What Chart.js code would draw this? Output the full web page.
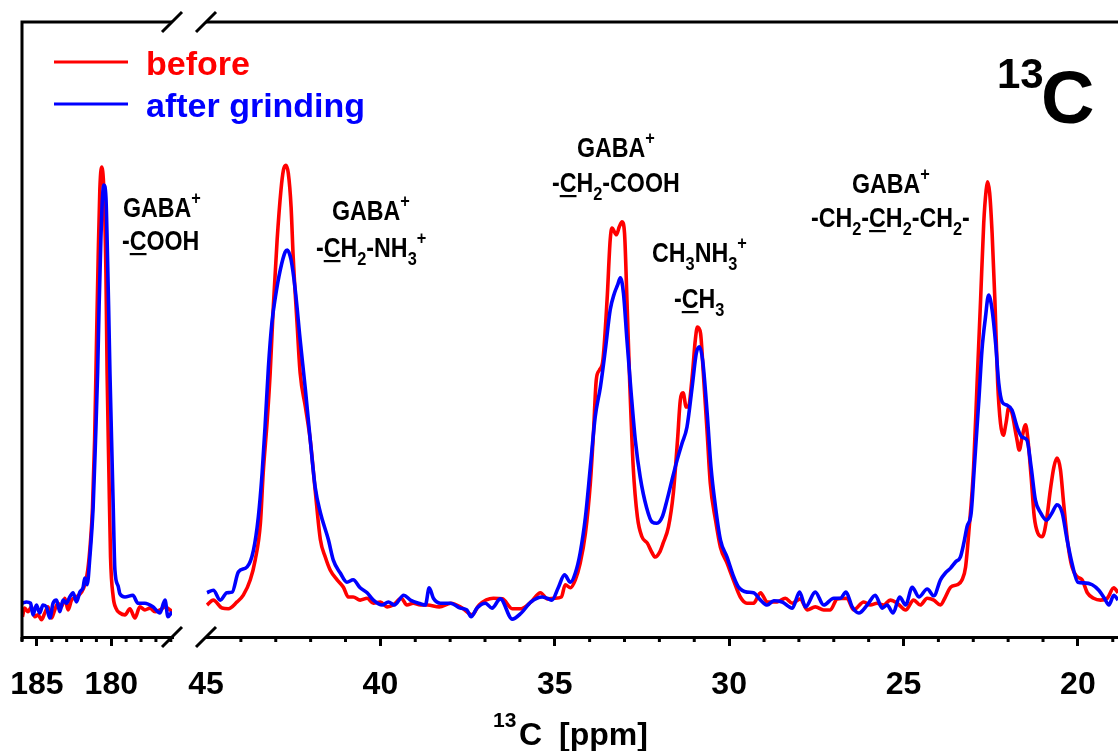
<!DOCTYPE html>
<html>
<head>
<meta charset="utf-8">
<title>13C spectrum before / after grinding</title>
<script src="https://cdn.jsdelivr.net/npm/chart.js@4.4.1/dist/chart.umd.min.js"></script>
<style>
    html, body { margin: 0; padding: 0; background: #fff; }
    #wrap { width: 1118px; height: 751px; }
</style>
</head>
<body>
<div id="wrap"><canvas id="nmr" width="1118" height="751"></canvas></div>
<script>
// chemical shift (ppm) and intensity
// left window: carboxyl region
const beforeLeftPpm = [185.97, 185.82, 185.60, 185.37, 185.14, 184.92, 184.69, 184.47, 184.25, 184.02, 183.80, 183.58, 183.35, 183.12, 182.90, 182.67, 182.34, 182.00, 181.78, 181.58, 181.39, 181.26, 181.12, 180.99, 180.88, 180.77, 180.65, 180.50, 180.36, 180.28, 180.16, 180.05, 179.87, 179.69, 179.42, 179.08, 178.75, 178.41, 178.08, 177.74, 177.40, 177.06, 176.73, 176.39, 176.05, 175.92];
const beforeLeft = [3.3, 4.7, 4.1, 4.9, 3.3, 3.6, 2.8, 3.9, 4.9, 3.1, 4.4, 5.5, 4.9, 6.3, 4.4, 6.0, 6.5, 7.3, 8.5, 10.9, 15.8, 21.1, 32.0, 48.3, 61.8, 72.7, 76.4, 72.7, 59.2, 42.9, 26.7, 13.0, 6.5, 4.7, 3.9, 3.6, 4.6, 3.1, 4.9, 4.4, 4.7, 4.1, 4.4, 4.9, 4.4, 4.1];

const afterLeftPpm = [185.97, 185.70, 185.43, 185.26, 185.03, 184.81, 184.59, 184.36, 184.13, 183.91, 183.68, 183.46, 183.24, 183.01, 182.79, 182.57, 182.34, 182.11, 181.89, 181.78, 181.62, 181.44, 181.22, 181.06, 180.92, 180.82, 180.70, 180.59, 180.50, 180.36, 180.28, 180.18, 180.09, 179.98, 179.87, 179.76, 179.54, 179.42, 179.08, 178.55, 178.21, 177.74, 177.20, 176.73, 176.39, 176.19, 175.92];
const afterLeft = [5.5, 5.7, 5.5, 3.6, 5.2, 3.9, 5.2, 4.9, 3.1, 5.5, 6.0, 4.1, 6.0, 5.5, 6.5, 7.2, 5.7, 7.3, 8.1, 9.6, 8.5, 13.0, 21.1, 32.0, 42.9, 53.7, 64.6, 71.5, 73.5, 71.5, 64.6, 53.7, 42.9, 32.0, 21.1, 11.0, 8.3, 7.0, 6.5, 6.8, 5.5, 5.5, 4.9, 3.9, 6.0, 3.3, 4.1];

// right window: aliphatic region
const beforeRightPpm = [44.97, 44.79, 44.54, 44.36, 44.11, 43.93, 43.73, 43.59, 43.44, 43.36, 43.25, 43.16, 43.07, 42.96, 42.85, 42.78, 42.71, 42.64, 42.56, 42.50, 42.39, 42.30, 42.15, 42.01, 41.87, 41.72, 41.58, 41.44, 41.24, 41.06, 40.92, 40.78, 40.58, 40.38, 40.20, 40.00, 39.81, 39.63, 39.40, 39.24, 39.06, 38.85, 38.65, 38.31, 37.98, 37.65, 37.37, 37.17, 36.76, 36.50, 36.22, 35.96, 35.68, 35.41, 35.21, 35.01, 34.81, 34.70, 34.55, 34.41, 34.27, 34.12, 33.98, 33.89, 33.81, 33.72, 33.62, 33.50, 33.41, 33.36, 33.23, 33.15, 33.07, 33.00, 32.93, 32.85, 32.75, 32.63, 32.50, 32.35, 32.21, 32.12, 32.00, 31.89, 31.74, 31.60, 31.48, 31.40, 31.32, 31.23, 31.17, 31.06, 30.97, 30.91, 30.82, 30.74, 30.63, 30.54, 30.39, 30.25, 30.06, 29.88, 29.68, 29.49, 29.30, 29.10, 28.91, 28.62, 28.39, 28.19, 27.96, 27.76, 27.53, 27.29, 27.10, 26.90, 26.62, 26.43, 26.14, 25.95, 25.76, 25.57, 25.38, 25.18, 24.94, 24.71, 24.52, 24.32, 24.13, 23.94, 23.80, 23.65, 23.46, 23.32, 23.22, 23.13, 22.99, 22.89, 22.79, 22.70, 22.63, 22.59, 22.53, 22.46, 22.38, 22.30, 22.22, 22.14, 22.06, 21.98, 21.89, 21.76, 21.68, 21.60, 21.50, 21.44, 21.34, 21.25, 21.15, 21.02, 20.90, 20.79, 20.69, 20.60, 20.50, 20.41, 20.29, 20.17, 20.02, 19.88, 19.73, 19.55, 19.35, 19.16, 18.97, 18.85];
const beforeRight = [5.2, 6.0, 4.7, 4.6, 5.7, 6.8, 9.3, 12.5, 18.5, 26.7, 34.8, 42.9, 53.7, 64.6, 72.7, 75.9, 76.7, 75.4, 69.9, 61.8, 51.1, 42.9, 37.4, 32.0, 23.9, 15.8, 13.0, 10.9, 9.3, 8.1, 6.5, 6.5, 6.0, 6.3, 5.5, 5.7, 4.9, 5.2, 6.3, 5.2, 5.5, 5.2, 5.2, 4.9, 5.5, 4.7, 3.6, 5.2, 6.3, 6.2, 4.6, 4.6, 5.7, 7.2, 6.2, 6.3, 6.5, 8.5, 8.0, 9.3, 12.0, 16.9, 25.0, 33.2, 41.8, 43.4, 45.0, 54.8, 64.6, 66.5, 65.4, 66.7, 67.5, 65.7, 54.8, 41.3, 27.6, 19.5, 16.3, 15.3, 13.7, 13.0, 13.7, 15.3, 17.9, 23.4, 32.0, 38.5, 39.7, 37.4, 37.4, 42.3, 48.3, 50.4, 49.4, 42.9, 33.2, 25.0, 19.0, 14.6, 12.0, 9.3, 6.5, 5.5, 5.5, 7.2, 5.7, 5.7, 6.3, 5.5, 6.2, 4.4, 4.9, 4.4, 4.4, 6.2, 6.3, 4.4, 5.7, 5.2, 5.5, 5.2, 6.0, 5.5, 4.4, 6.0, 5.2, 6.3, 6.0, 5.2, 6.5, 8.1, 8.5, 9.3, 11.4, 16.9, 27.6, 41.3, 54.8, 67.3, 72.7, 74.0, 72.2, 65.7, 54.8, 41.3, 34.8, 32.8, 34.8, 37.4, 36.4, 32.5, 30.4, 32.5, 34.5, 32.5, 26.0, 19.5, 16.9, 16.3, 19.0, 23.9, 27.6, 29.1, 27.2, 21.8, 15.3, 11.4, 9.8, 9.3, 7.2, 6.3, 6.0, 6.3, 8.0, 7.2];

const afterRightPpm = [44.97, 44.79, 44.59, 44.40, 44.25, 44.07, 43.82, 43.64, 43.50, 43.39, 43.30, 43.21, 43.11, 43.01, 42.87, 42.73, 42.67, 42.56, 42.44, 42.30, 42.15, 42.01, 41.87, 41.72, 41.49, 41.35, 41.15, 40.96, 40.78, 40.58, 40.38, 40.20, 39.95, 39.77, 39.60, 39.33, 39.14, 38.85, 38.71, 38.60, 38.48, 38.28, 37.99, 37.71, 37.52, 37.40, 37.23, 36.99, 36.80, 36.56, 36.22, 35.96, 35.68, 35.36, 35.22, 35.08, 34.90, 34.72, 34.55, 34.41, 34.27, 34.12, 33.98, 33.84, 33.69, 33.55, 33.41, 33.29, 33.20, 33.12, 33.03, 32.93, 32.81, 32.69, 32.55, 32.37, 32.21, 32.07, 31.92, 31.78, 31.64, 31.49, 31.35, 31.21, 31.06, 30.94, 30.85, 30.76, 30.63, 30.52, 30.39, 30.25, 30.06, 29.87, 29.73, 29.49, 29.30, 29.10, 28.91, 28.72, 28.48, 28.19, 27.98, 27.81, 27.53, 27.29, 27.00, 26.81, 26.65, 26.47, 26.28, 26.04, 25.81, 25.61, 25.47, 25.30, 25.11, 24.94, 24.75, 24.56, 24.32, 24.13, 23.94, 23.80, 23.65, 23.51, 23.37, 23.27, 23.18, 23.06, 22.97, 22.84, 22.75, 22.65, 22.56, 22.46, 22.36, 22.27, 22.17, 22.03, 21.89, 21.74, 21.60, 21.46, 21.34, 21.22, 21.07, 20.90, 20.74, 20.60, 20.45, 20.31, 20.17, 20.00, 19.83, 19.59, 19.40, 19.24, 19.11, 18.97, 18.85];
const afterRight = [7.2, 7.6, 6.0, 7.2, 7.3, 10.6, 11.4, 14.1, 19.5, 26.7, 34.8, 43.9, 51.1, 55.3, 59.7, 62.6, 62.9, 61.3, 56.4, 48.3, 40.2, 32.0, 24.4, 20.2, 15.8, 12.5, 10.4, 8.9, 9.3, 8.0, 7.2, 6.0, 5.2, 5.7, 5.2, 6.8, 6.0, 5.4, 5.2, 8.0, 6.3, 5.5, 5.5, 4.7, 4.4, 3.3, 4.7, 5.5, 4.7, 6.2, 2.9, 3.9, 5.7, 6.5, 6.3, 6.0, 8.0, 10.1, 8.9, 10.4, 13.7, 19.5, 27.6, 35.8, 40.7, 46.7, 53.2, 55.9, 57.2, 58.4, 55.9, 48.3, 39.7, 32.0, 26.0, 21.1, 18.7, 18.5, 19.5, 22.3, 25.5, 28.8, 31.5, 34.1, 40.7, 46.2, 47.2, 45.0, 36.4, 27.6, 21.1, 15.8, 13.0, 9.8, 8.1, 7.3, 7.2, 6.0, 5.2, 5.9, 5.7, 4.7, 7.3, 4.9, 7.3, 5.2, 6.3, 6.3, 7.3, 4.9, 3.9, 5.2, 6.8, 4.7, 5.2, 3.9, 6.5, 5.2, 8.1, 6.5, 7.8, 6.7, 9.3, 10.4, 11.2, 12.2, 13.0, 15.3, 17.9, 20.2, 27.6, 38.5, 46.7, 52.0, 55.6, 53.2, 47.8, 41.3, 38.2, 37.7, 36.9, 34.1, 32.5, 32.0, 27.6, 22.3, 20.2, 19.0, 20.2, 21.5, 20.2, 15.8, 12.0, 8.9, 8.8, 8.5, 7.6, 6.3, 5.2, 6.8, 6.0];

// axis windows (ppm)
const leftWindow = [175.92, 186];
const rightWindow = [18.85, 45];

// legend entries and peak assignments
// markup: _x subscript, ^x superscript, ~x underlined
const seriesNames = ['before', 'after grinding'];
const seriesColors = ['#ff0000', '#0000ff'];
const peakLabels = [
    ['GABA^+', 123, 217], ['-~COOH', 122, 250],
    ['GABA^+', 332, 220], ['-~CH_2-NH_3^+', 316, 257],
    ['GABA^+', 577, 157], ['-~CH_2-COOH', 552, 192],
    ['CH_3NH_3^+', 652, 262], ['-~CH_3', 674, 308],
    ['GABA^+', 852, 193], ['-CH_2-~CH_2-CH_2-', 811, 227]
];

const FONT = '"Liberation Sans", Arial, Helvetica, sans-serif';

function toPoints(ppm, vals) {
    return ppm.map((p, i) => ({ x: p, y: vals[i] }));
}

// split the little markup into runs
function richParts(str) {
    const parts = [];
    for (let i = 0; i < str.length; i++) {
        let c = str[i];
        let mode = 'n';
        if ((c === '_' || c === '^' || c === '~') && i + 1 < str.length) {
            mode = c === '_' ? 'sub' : (c === '^' ? 'sup' : 'u');
            c = str[++i];
        }
        const last = parts[parts.length - 1];
        if (last && mode === 'n' && last.mode === 'n') last.text += c;
        else parts.push({ text: c, mode: mode });
    }
    return parts;
}

function drawRich(ctx, str, x, y, size, squeeze) {
    ctx.save();
    ctx.translate(x, y);
    ctx.scale(squeeze, 1);
    ctx.textAlign = 'left';
    ctx.textBaseline = 'alphabetic';
    let cx = 0;
    richParts(str).forEach(p => {
        const small = p.mode === 'sub' || p.mode === 'sup';
        ctx.font = 'bold ' + (small ? Math.round(size * 0.7) : size) + 'px ' + FONT;
        const dy = p.mode === 'sub' ? size * 0.3 : (p.mode === 'sup' ? -size * 0.48 : 0);
        ctx.fillText(p.text, cx, dy);
        const w = ctx.measureText(p.text).width;
        if (p.mode === 'u') ctx.fillRect(cx, 3, w, 2.2);
        cx += w;
    });
    ctx.restore();
}

// frame, axis breaks, minor ticks and all the free text
const decorPlugin = {
    id: 'decor',
    afterDraw(chart) {
        const ctx = chart.ctx;
        const area = chart.chartArea;
        const xl = chart.scales.xL;
        const xr = chart.scales.xR;

        ctx.save();
        ctx.strokeStyle = '#000';
        ctx.lineWidth = 3;

        ctx.beginPath();
        ctx.moveTo(area.left, area.bottom + 4);
        ctx.lineTo(area.left, area.top);
        ctx.lineTo(xl.right, area.top);
        ctx.moveTo(xr.left, area.top);
        ctx.lineTo(area.right, area.top);
        ctx.stroke();

        // break marks
        [area.top, area.bottom].forEach(yy => {
            [xl.right, xr.left].forEach(xx => {
                ctx.beginPath();
                ctx.moveTo(xx - 10, yy + 10);
                ctx.lineTo(xx + 10, yy - 10);
                ctx.stroke();
            });
        });

        // minor ticks every 1 ppm
        [xl, xr].forEach(sc => {
            sc.ticks.forEach(t => {
                if (t.value % 5 === 0) return;
                const px = sc.getPixelForValue(t.value);
                ctx.beginPath();
                ctx.moveTo(px, sc.top);
                ctx.lineTo(px, sc.top + 5);
                ctx.stroke();
            });
        });

        // legend
        seriesNames.forEach((name, i) => {
            const ly = 62 + i * 42;
            ctx.strokeStyle = seriesColors[i];
            ctx.beginPath();
            ctx.moveTo(54, ly);
            ctx.lineTo(128, ly);
            ctx.stroke();
            ctx.fillStyle = seriesColors[i];
            ctx.font = 'bold 34px ' + FONT;
            ctx.textBaseline = 'alphabetic';
            ctx.fillText(name, 146, ly + 13);
        });

        // peak assignments
        ctx.fillStyle = '#000';
        peakLabels.forEach(l => drawRich(ctx, l[0], l[1], l[2], 27, 0.86));

        // nucleus tag
        ctx.font = 'bold 42px ' + FONT;
        ctx.fillText('13', 997, 88);
        ctx.font = 'bold 74px ' + FONT;
        ctx.fillText('C', 1041, 123);

        // axis title
        ctx.font = 'bold 21px ' + FONT;
        ctx.fillText('13', 493, 727);
        ctx.font = 'bold 32px ' + FONT;
        ctx.fillText('C', 519, 745);
        ctx.fillText('[ppm]', 559, 745);

        ctx.restore();
    }
};

function ppmAxis(win, weight) {
    return {
        type: 'linear',
        position: 'bottom',
        reverse: true,
        min: win[0],
        max: win[1],
        stack: 'ppm',
        stackWeight: weight,
        // label overhang would shrink the plot area, the frame is fixed here
        afterFit: scale => {
            scale.paddingLeft = 0;
            scale.paddingRight = 0;
        },
        border: { display: true, color: '#000', width: 3 },
        grid: {
            drawOnChartArea: false,
            tickLength: 9,
            lineWidth: 3,
            tickColor: c => (c.tick && c.tick.value % 5 === 0 && c.tick.value !== 45) ? '#000' : 'rgba(0,0,0,0)'
        },
        ticks: {
            stepSize: 1,
            includeBounds: false,
            autoSkip: false,
            maxRotation: 0,
            minRotation: 0,
            padding: 20,
            color: '#000',
            font: { family: FONT, size: 32, weight: 'bold' },
            callback: v => (v % 5 === 0 ? String(v) : '')
        }
    };
}

document.addEventListener('DOMContentLoaded', function() {
    const lineStyle = {
        borderWidth: 3.6,
        pointRadius: 0,
        fill: false,
        cubicInterpolationMode: 'monotone',
        yAxisID: 'y'
    };

    new Chart(document.getElementById('nmr'), {
        type: 'line',
        data: {
            datasets: [
                Object.assign({ label: seriesNames[1], xAxisID: 'xL', order: 0, borderColor: seriesColors[1], data: toPoints(afterLeftPpm, afterLeft) }, lineStyle),
                Object.assign({ label: seriesNames[1], xAxisID: 'xR', order: 0, borderColor: seriesColors[1], data: toPoints(afterRightPpm, afterRight) }, lineStyle),
                Object.assign({ label: seriesNames[0], xAxisID: 'xL', order: 1, borderColor: seriesColors[0], data: toPoints(beforeLeftPpm, beforeLeft) }, lineStyle),
                Object.assign({ label: seriesNames[0], xAxisID: 'xR', order: 1, borderColor: seriesColors[0], data: toPoints(beforeRightPpm, beforeRight) }, lineStyle)
            ]
        },
        options: {
            responsive: false,
            animation: false,
            devicePixelRatio: 1,
            layout: { padding: { top: 22, left: 22, right: 0, bottom: 26.6 } },
            plugins: {
                legend: { display: false },
                tooltip: { enabled: false }
            },
            scales: {
                xL: ppmAxis(leftWindow, 150),
                xGap: {
                    type: 'linear',
                    position: 'bottom',
                    stack: 'ppm',
                    stackWeight: 34,
                    min: 0,
                    max: 1,
                    ticks: { display: false },
                    grid: { display: false },
                    border: { display: false }
                },
                xR: ppmAxis(rightWindow, 912),
                y: { display: false, min: 0, max: 100 }
            }
        },
        plugins: [decorPlugin]
    });
});
</script>
</body>
</html>
